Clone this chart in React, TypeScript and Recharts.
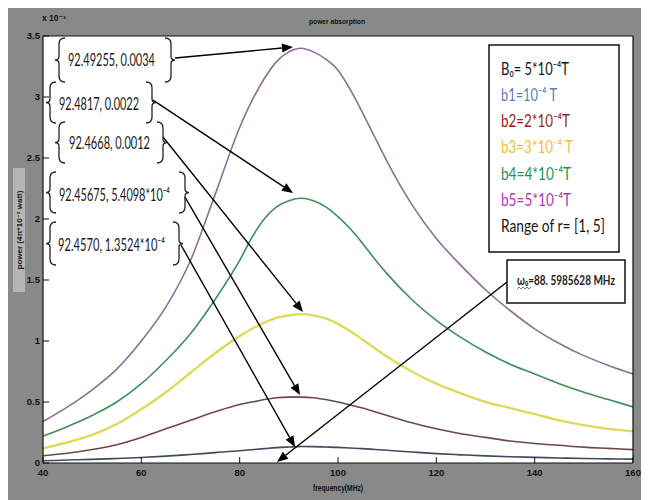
import React from 'react';
import { LineChart, Line, XAxis, YAxis, CartesianGrid, ReferenceLine } from 'recharts';

// frequency (MHz)
const frequencies = [40, 45, 50, 55, 60, 65, 70, 75, 80, 82.5, 85, 87.5, 90, 92.5, 95, 97.5, 100, 102.5, 105, 107.5, 110, 115, 120, 125, 130, 135, 140, 145, 150, 155, 160];
// power, units of 1e-3 (4π*10^-1 watt)
const b1Values = [0.018, 0.024, 0.03, 0.037, 0.045, 0.056, 0.07, 0.085, 0.1, 0.109, 0.118, 0.126, 0.131, 0.135, 0.134, 0.131, 0.128, 0.123, 0.118, 0.111, 0.104, 0.09, 0.077, 0.067, 0.058, 0.051, 0.046, 0.041, 0.037, 0.034, 0.032];
const b2Values = [0.06, 0.08, 0.11, 0.15, 0.21, 0.28, 0.35, 0.42, 0.48, 0.5, 0.52, 0.535, 0.54, 0.54, 0.535, 0.52, 0.5, 0.475, 0.45, 0.42, 0.39, 0.33, 0.28, 0.24, 0.21, 0.18, 0.16, 0.145, 0.13, 0.12, 0.11];
const b3Values = [0.12, 0.17, 0.23, 0.32, 0.44, 0.58, 0.74, 0.9, 1.04, 1.1, 1.15, 1.19, 1.21, 1.22, 1.21, 1.185, 1.14, 1.08, 1.01, 0.94, 0.87, 0.75, 0.65, 0.57, 0.5, 0.45, 0.4, 0.35, 0.31, 0.28, 0.26];
const b4Values = [0.22, 0.3, 0.39, 0.5, 0.65, 0.84, 1.06, 1.34, 1.66, 1.85, 2.0, 2.1, 2.15, 2.17, 2.15, 2.1, 2.02, 1.92, 1.8, 1.67, 1.55, 1.34, 1.17, 1.03, 0.91, 0.81, 0.73, 0.65, 0.58, 0.52, 0.46];
const b5Values = [0.34, 0.46, 0.6, 0.77, 1.0, 1.28, 1.66, 2.2, 2.75, 2.97, 3.15, 3.29, 3.37, 3.4, 3.37, 3.31, 3.22, 3.06, 2.87, 2.67, 2.47, 2.12, 1.84, 1.62, 1.42, 1.25, 1.1, 0.98, 0.88, 0.8, 0.73];

const xTicks = [40, 60, 80, 100, 120, 140, 160];
const yTicks = [0, 0.5, 1, 1.5, 2, 2.5, 3, 3.5];

// annotation arrows, in data coordinates (from -> to)
const arrowFromX = [66.85, 62.37, 64.41, 68.88, 68.07, 134.37];
const arrowFromY = [3.32, 2.975, 2.672, 2.18, 1.787, 1.484];
const arrowToX = [90.85, 90.85, 92.88, 92.27, 91.25, 87.59];
const arrowToY = [3.41, 2.213, 1.238, 0.557, 0.131, 0.008];

// annotation / legend texts
const boxLabels = ['92.49255, 0.0034', '92.4817, 0.0022', '92.4668, 0.0012', '92.45675, 5.4098*10⁻⁴', '92.4570, 1.3524*10⁻⁴'];
const legendLabels = ['B₀= 5*10⁻⁴T', 'b1=10⁻⁴ T', 'b2=2*10⁻⁴T', 'b3=3*10⁻⁴ T', 'b4=4*10⁻⁴T', 'b5=5*10⁻⁴T', 'Range of r= [1, 5]'];
const legendColors = ['#161616', '#5b7fb5', '#9b1d20', '#f0c038', '#1e9652', '#b536b8', '#161616'];
const omegaLabel = 'ω₀=88. 5985628 MHz';

const data = frequencies.map((f, i) => ({
  f,
  b1: b1Values[i],
  b2: b2Values[i],
  b3: b3Values[i],
  b4: b4Values[i],
  b5: b5Values[i],
}));

const arrows = arrowFromX.map((x, i) => ({
  from: { x, y: arrowFromY[i] },
  to: { x: arrowToX[i], y: arrowToY[i] },
}));

const ArrowShape = (p: any) => {
  const { x1, y1, x2, y2 } = p;
  if ([x1, y1, x2, y2].some((v) => typeof v !== 'number' || isNaN(v))) return <g />;
  const ang = Math.atan2(y2 - y1, x2 - x1);
  const L = 11;
  const W = 4.5;
  const bx = x2 - L * Math.cos(ang);
  const by = y2 - L * Math.sin(ang);
  const nx = -Math.sin(ang);
  const ny = Math.cos(ang);
  const pts = `${x2},${y2} ${bx + W * nx},${by + W * ny} ${bx - W * nx},${by - W * ny}`;
  return (
    <g>
      <line x1={x1} y1={y1} x2={bx} y2={by} stroke="#000" strokeWidth={1.4} />
      <polygon points={pts} fill="#000" />
    </g>
  );
};

const leftBrace = (x: number, y0: number, y1: number) => {
  const m = (y0 + y1) / 2;
  return `M ${x + 6} ${y0} Q ${x} ${y0} ${x} ${y0 + 6} L ${x} ${m - 4} Q ${x} ${m} ${x - 4} ${m} Q ${x} ${m} ${x} ${m + 4} L ${x} ${y1 - 6} Q ${x} ${y1} ${x + 6} ${y1}`;
};
const rightBrace = (x: number, y0: number, y1: number) => {
  const m = (y0 + y1) / 2;
  return `M ${x - 6} ${y0} Q ${x} ${y0} ${x} ${y0 + 6} L ${x} ${m - 4} Q ${x} ${m} ${x + 4} ${m} Q ${x} ${m} ${x} ${m + 4} L ${x} ${y1 - 6} Q ${x} ${y1} ${x - 6} ${y1}`;
};

const boxLayout = [
  { l: 59, r: 171, t: 38, b: 82, tx: 68, ty: 66, w: 87 },
  { l: 50, r: 152, t: 82, b: 123, tx: 59, ty: 110, w: 80 },
  { l: 59, r: 163, t: 122, b: 163, tx: 69, ty: 149, w: 81 },
  { l: 50, r: 185, t: 172, b: 213, tx: 59, ty: 201, w: 111 },
  { l: 50, r: 179, t: 222, b: 265, tx: 58, ty: 251, w: 107 },
];
const legendLayout = [
  { y: 75, w: 68 },
  { y: 101, w: 56 },
  { y: 127, w: 69 },
  { y: 153, w: 72 },
  { y: 180, w: 70 },
  { y: 206, w: 70 },
  { y: 232, w: 104 },
];

const FONT = 'Lato, "Open Sans", "DejaVu Sans", sans-serif';
const AX_FONT = '"Liberation Sans", Arial, "DejaVu Sans", sans-serif';

const Overlay = () => (
  <svg width={641} height={492} style={{ position: 'absolute', left: 0, top: 0, pointerEvents: 'none' }}>
    <g transform="translate(-8,-8)">
      {/* y label band */}
      <rect x={13} y={168} width={12} height={124} fill="#b5b5b5" />
      <text
        x={0}
        y={0}
        transform="translate(22,230) rotate(-90)"
        textAnchor="middle"
        fontFamily={AX_FONT}
        fontWeight="bold"
        fontSize={8}
        fill="#1a1a1a"
      >
        power (4π*10⁻¹ watt)
      </text>
      {/* exponent */}
      <text x={42} y={21} fontFamily={AX_FONT} fontWeight="bold" fontSize={8.5} fill="#111">
        x 10⁻³
      </text>
      {/* title */}
      <text x={337} y={24} textAnchor="middle" fontFamily={AX_FONT} fontWeight="bold" fontSize={8} fill="#111" textLength={56} lengthAdjust="spacingAndGlyphs">
        power absorption
      </text>
      {/* x label */}
      <text x={338} y={491} textAnchor="middle" fontFamily={AX_FONT} fontWeight="bold" fontSize={8.5} fill="#111" textLength={50} lengthAdjust="spacingAndGlyphs">
        frequency(MHz)
      </text>

      {/* annotation boxes */}
      {boxLayout.map((b, i) => (
        <g key={i}>
          <path d={leftBrace(b.l, b.t, b.b)} fill="none" stroke="#222" strokeWidth={1.3} />
          <path d={rightBrace(b.r, b.t, b.b)} fill="none" stroke="#222" strokeWidth={1.3} />
          <text x={b.tx} y={b.ty} fontFamily={FONT} fontSize={17} fill="#1a1a1a" textLength={b.w} lengthAdjust="spacingAndGlyphs">
            {boxLabels[i]}
          </text>
        </g>
      ))}

      {/* legend box */}
      <rect x={489} y={45} width={130} height={207} fill="#fff" stroke="#111" strokeWidth={1.5} />
      {legendLayout.map((l, i) => (
        <text key={i} x={501} y={l.y} fontFamily={FONT} fontSize={17} fill={legendColors[i]} textLength={l.w} lengthAdjust="spacingAndGlyphs">
          {legendLabels[i]}
        </text>
      ))}

      {/* omega box */}
      <rect x={507} y={260} width={118} height={43} fill="#fff" stroke="#111" strokeWidth={1.5} />
      <text x={517} y={285} fontFamily={FONT} fontWeight="bold" fontSize={12.5} fill="#222" textLength={98} lengthAdjust="spacingAndGlyphs">
        {omegaLabel}
      </text>
      <path d="M 517 289 l 2 -2 l 2 2 l 2 -2 l 2 2 l 2 -2 l 2 2 l 2 -2" fill="none" stroke="#c0392b" strokeWidth={0.8} />
    </g>
  </svg>
);

const tickStyle = { fill: '#111', fontSize: 9.5, fontWeight: 'bold' as const, fontFamily: AX_FONT };

export default function App() {
  return (
    <div style={{ position: 'relative', width: 641, height: 492, background: '#898989' }}>
      <LineChart width={641} height={492} data={data} margin={{ top: 27, right: 15, bottom: 0, left: 0 }}>
        <CartesianGrid horizontal={false} vertical={false} fill="#ffffff" stroke="none" />
        <XAxis
          dataKey="f"
          type="number"
          domain={[40, 160]}
          ticks={xTicks}
          allowDataOverflow
          height={37}
          tickSize={-6}
          tickMargin={12}
          axisLine={{ stroke: '#111', strokeWidth: 1.2 }}
          tickLine={{ stroke: '#111' }}
          tick={tickStyle}
          interval={0}
        />
        <XAxis
          xAxisId="top"
          orientation="top"
          type="number"
          domain={[40, 160]}
          ticks={xTicks}
          allowDataOverflow
          height={1}
          tickSize={-6}
          tick={false}
          axisLine={{ stroke: '#111', strokeWidth: 1.2 }}
          tickLine={{ stroke: '#111' }}
        />
        <YAxis
          type="number"
          domain={[0, 3.5]}
          ticks={yTicks}
          allowDataOverflow
          width={35}
          tickSize={-6}
          tickMargin={9}
          axisLine={{ stroke: '#111', strokeWidth: 1.2 }}
          tickLine={{ stroke: '#111' }}
          tick={tickStyle}
          interval={0}
        />
        <YAxis
          yAxisId="right"
          orientation="right"
          type="number"
          domain={[0, 3.5]}
          ticks={yTicks}
          allowDataOverflow
          width={1}
          tickSize={-6}
          tick={false}
          axisLine={{ stroke: '#111', strokeWidth: 1.2 }}
          tickLine={{ stroke: '#111' }}
        />
        <Line type="monotone" dataKey="b1" stroke="#3e4a60" strokeWidth={1.6} dot={false} isAnimationActive={false} />
        <Line type="monotone" dataKey="b2" stroke="#6e4848" strokeWidth={1.6} dot={false} isAnimationActive={false} />
        <Line type="monotone" dataKey="b3" stroke="#dcdc5a" strokeWidth={2.4} dot={false} isAnimationActive={false} />
        <Line type="monotone" dataKey="b4" stroke="#3f8f5a" strokeWidth={1.6} dot={false} isAnimationActive={false} />
        <Line type="monotone" dataKey="b5" stroke="#8e6e96" strokeWidth={1.6} dot={false} isAnimationActive={false} />
        {arrows.map((a, i) => (
          <ReferenceLine key={i} segment={[a.from, a.to]} shape={ArrowShape} />
        ))}
      </LineChart>
      <Overlay />
    </div>
  );
}
